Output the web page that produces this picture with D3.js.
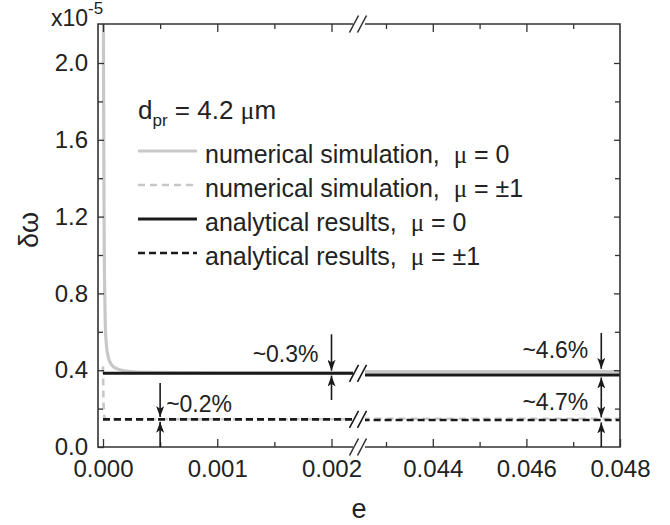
<!DOCTYPE html>
<html>
<head>
<meta charset="utf-8">
<script src="https://cdn.jsdelivr.net/npm/d3@7"></script>
<style>
  html, body { margin: 0; padding: 0; background: #fff; }
  svg { display: block; }
  text { font-family: "Liberation Sans", Arial, sans-serif; fill: #222; }
</style>
</head>
<body>
<svg id="chart" width="670" height="525"></svg>
<script>
// ---------------- data ----------------
const breakE = 0.01; // e values below belong to the left panel, above to the right panel
const xLeftDomain = [0, 0.002];
const xRightDomain = [0.043, 0.048];
const xLeftMajor = [0, 0.001, 0.002];
const xLeftMinor = [0.0005, 0.0015];
const xRightMajor = [0.044, 0.046, 0.048];
const xRightMinor = [0.043, 0.045, 0.047];
const xLeftLabels = ["0.000", "0.001", "0.002"];
const xRightLabels = ["0.044", "0.046", "0.048"];
const yDomain = [0, 2.2];
const yMajor = [0, 0.4, 0.8, 1.2, 1.6, 2.0];
const yMinor = [0.2, 0.6, 1.0, 1.4, 1.8, 2.2];
const yLabels = ["0.0", "0.4", "0.8", "1.2", "1.6", "2.0"];

// numerical simulation, mu = 0  (e, delta omega x1e5)
const numMu0 = [
  [0, 2.6], [0.000003, 2.3], [0.000006, 1.7], [0.00001, 1.1], [0.000015, 0.8],
  [0.00002, 0.64], [0.00003, 0.53], [0.00005, 0.46], [0.00008, 0.425],
  [0.00012, 0.408], [0.0002, 0.396], [0.0004, 0.389], [0.001, 0.386], [0.0022, 0.385],
  [0.0425, 0.393], [0.048, 0.393]
];
// numerical simulation, mu = +-1
const numMu1 = [
  [0, 0.42], [0.000004, 0.25], [0.000008, 0.175], [0.000015, 0.152], [0.00003, 0.146],
  [0.0002, 0.1445], [0.0022, 0.1443],
  [0.0425, 0.147], [0.048, 0.147]
];
// analytical results, mu = 0
const anaMu0 = [[0, 0.384], [0.0022, 0.384], [0.0425, 0.375], [0.048, 0.375]];
// analytical results, mu = +-1
const anaMu1 = [[0, 0.144], [0.0022, 0.144], [0.0425, 0.1406], [0.048, 0.1406]];

const legendNames = [
  "numerical simulation,  μ = 0",
  "numerical simulation,  μ = ±1",
  "analytical results,  μ = 0",
  "analytical results,  μ = ±1"
];

// annotation arrows: e position, arrow-from value, arrow-to value
const arrowE = [0.002, 0.002, 0.0005, 0.0005, 0.0476, 0.0476, 0.0476, 0.0476];
const arrowFrom = [0.587, 0.245, 0.333, 0.0, 0.594, 0.26, 0.26, 0.0];
const arrowTo   = [0.397, 0.372, 0.156, 0.131, 0.407, 0.362, 0.154, 0.128];
const annoLabels = ["~0.3%", "~0.2%", "~4.6%", "~4.7%"];
const annoE = [0.002, 0.0005, 0.0476, 0.0476];
const annoV = [0.445, 0.182, 0.465, 0.192];

// ---------------- layout ----------------
const L = 98, R = 620, T = 24, B = 447;
const gapL = 353, gapR = 365;
const svg = d3.select("#chart");

const xL = d3.scaleLinear().domain(xLeftDomain).range([103, 331.5]);
const xR = d3.scaleLinear().domain(xRightDomain).range([386, 620]);
const y = d3.scaleLinear().domain(yDomain).range([B, T + 0.6]);
const xAt = e => (e < breakE ? xL(e) : xR(e));

const defs = svg.append("defs");
defs.append("clipPath").attr("id", "clipL").append("rect")
  .attr("x", L).attr("y", T).attr("width", gapL - L).attr("height", B - T);
defs.append("clipPath").attr("id", "clipR").append("rect")
  .attr("x", gapR).attr("y", T).attr("width", R - gapR).attr("height", B - T);
defs.append("marker").attr("id", "ah").attr("viewBox", "0 0 10 14")
  .attr("refX", 10).attr("refY", 7).attr("markerWidth", 11).attr("markerHeight", 8)
  .attr("markerUnits", "userSpaceOnUse").attr("orient", "auto").attr("preserveAspectRatio", "none")
  .append("path").attr("d", "M0,0 L10,7 L0,14 L2.5,7 Z").attr("fill", "#1a1a1a");

// ---------------- series ----------------
const series = [
  { data: numMu0, color: "#c8c8c8", width: 3.2, dash: null },
  { data: numMu1, color: "#c8c8c8", width: 2.6, dash: "7,5" },
  { data: anaMu0, color: "#1a1a1a", width: 3, dash: null },
  { data: anaMu1, color: "#1a1a1a", width: 2.6, dash: "7,4" }
];
const line = d3.line().x(d => xAt(d[0])).y(d => y(d[1])).curve(d3.curveMonotoneX);

series.forEach(s => {
  const left = s.data.filter(d => d[0] < breakE);
  const right = s.data.filter(d => d[0] >= breakE);
  [[left, "clipL"], [right, "clipR"]].forEach(([pts, clip]) => {
    svg.append("path").datum(pts)
      .attr("clip-path", `url(#${clip})`)
      .attr("d", line)
      .attr("fill", "none")
      .attr("stroke", s.color)
      .attr("stroke-width", s.width)
      .attr("stroke-dasharray", s.dash);
  });
});

// break marks on the analytical lines
function slashes(cy, color) {
  [354, 362].forEach(cx => {
    svg.append("line").attr("x1", cx - 4.5).attr("y1", cy + 8.5).attr("x2", cx + 4.5).attr("y2", cy - 8.5)
      .attr("stroke", color).attr("stroke-width", 1.6);
  });
}
slashes(y(anaMu0[1][1]), "#1a1a1a");
slashes(y(anaMu1[1][1]), "#1a1a1a");

// ---------------- axes ----------------
const axisColor = "#333";
function styleAxis(g) {
  g.select(".domain").remove();
  g.selectAll(".tick line").attr("stroke", axisColor).attr("stroke-width", 1.3);
  g.selectAll(".tick text").attr("font-size", 24).attr("font-family", "Liberation Sans, Arial, sans-serif").attr("fill", "#222");
}
// bottom
svg.append("g").attr("transform", `translate(0,${B})`)
  .call(d3.axisBottom(xL).tickValues(xLeftMajor).tickFormat((d, i) => xLeftLabels[i]).tickSize(-8).tickSizeOuter(0).tickPadding(13)).call(styleAxis);
svg.append("g").attr("transform", `translate(0,${B})`)
  .call(d3.axisBottom(xL).tickValues(xLeftMinor).tickFormat("").tickSize(-5).tickSizeOuter(0)).call(styleAxis);
svg.append("g").attr("transform", `translate(0,${B})`)
  .call(d3.axisBottom(xR).tickValues(xRightMajor).tickFormat((d, i) => xRightLabels[i]).tickSize(-8).tickSizeOuter(0).tickPadding(13)).call(styleAxis);
svg.append("g").attr("transform", `translate(0,${B})`)
  .call(d3.axisBottom(xR).tickValues(xRightMinor).tickFormat("").tickSize(-5).tickSizeOuter(0)).call(styleAxis);
// top
svg.append("g").attr("transform", `translate(0,${T})`)
  .call(d3.axisTop(xL).tickValues(xLeftMajor).tickFormat("").tickSize(-8).tickSizeOuter(0)).call(styleAxis);
svg.append("g").attr("transform", `translate(0,${T})`)
  .call(d3.axisTop(xL).tickValues(xLeftMinor).tickFormat("").tickSize(-5).tickSizeOuter(0)).call(styleAxis);
svg.append("g").attr("transform", `translate(0,${T})`)
  .call(d3.axisTop(xR).tickValues(xRightMajor.filter(v => v < 0.048)).tickFormat("").tickSize(-8).tickSizeOuter(0)).call(styleAxis);
svg.append("g").attr("transform", `translate(0,${T})`)
  .call(d3.axisTop(xR).tickValues(xRightMinor).tickFormat("").tickSize(-5).tickSizeOuter(0)).call(styleAxis);
// left
svg.append("g").attr("transform", `translate(${L},0)`)
  .call(d3.axisLeft(y).tickValues(yMajor).tickFormat((d, i) => yLabels[i]).tickSize(-6).tickSizeOuter(0).tickPadding(10)).call(styleAxis);
svg.append("g").attr("transform", `translate(${L},0)`)
  .call(d3.axisLeft(y).tickValues(yMinor.filter(v => v < 2.2)).tickFormat("").tickSize(-5).tickSizeOuter(0)).call(styleAxis);
// right
svg.append("g").attr("transform", `translate(${R},0)`)
  .call(d3.axisRight(y).tickValues(yMajor.filter(v => v > 0)).tickFormat("").tickSize(-6).tickSizeOuter(0)).call(styleAxis);
svg.append("g").attr("transform", `translate(${R},0)`)
  .call(d3.axisRight(y).tickValues(yMinor.filter(v => v < 2.2)).tickFormat("").tickSize(-5).tickSizeOuter(0)).call(styleAxis);

// frame with broken horizontal axes
const frame = svg.append("g").attr("stroke", axisColor).attr("stroke-width", 1.6).attr("fill", "none");
frame.append("path").attr("d", `M${gapL},${T} H${L} V${B} H${gapL}`);
frame.append("path").attr("d", `M${gapR},${T} H${R} V${B} H${gapR}`);
[T, B].forEach(yy => {
  [354, 362].forEach(cx => {
    svg.append("line").attr("x1", cx - 4.5).attr("y1", yy + 8.5).attr("x2", cx + 4.5).attr("y2", yy - 8.5)
      .attr("stroke", axisColor).attr("stroke-width", 1.6);
  });
});

// axis titles
svg.append("text").attr("x", 359).attr("y", 518).attr("text-anchor", "middle").attr("font-size", 27).text("e");
svg.append("text").attr("transform", "translate(38,230) rotate(-90)").attr("text-anchor", "middle")
  .attr("font-size", 27).text("δω");
const mult = svg.append("text").attr("x", 51).attr("y", 26).attr("font-size", 23);
mult.append("tspan").text("x10");
mult.append("tspan").attr("dy", -12).attr("font-size", 17).text("-5");

// ---------------- legend ----------------
const dpr = svg.append("text").attr("x", 138).attr("y", 119).attr("font-size", 26);
dpr.append("tspan").text("d");
dpr.append("tspan").attr("dy", 7).attr("font-size", 17).text("pr");
dpr.append("tspan").attr("dy", -7).text(" = 4.2 ");
dpr.append("tspan").attr("font-family", "Liberation Serif, serif").text("μ");
dpr.append("tspan").text("m");

legendNames.forEach((name, i) => {
  const ly = 151 + i * 34;
  const s = series[i];
  svg.append("line").attr("x1", 138).attr("x2", 197).attr("y1", ly).attr("y2", ly)
    .attr("stroke", s.color).attr("stroke-width", s.width).attr("stroke-dasharray", s.dash);
  const t = svg.append("text").attr("x", 205).attr("y", ly + 12).attr("font-size", 25);
  const parts = name.split("μ");
  t.append("tspan").text(parts[0].replace(/\s+$/, "") + "\u00a0\u00a0");
  t.append("tspan").attr("font-family", "Liberation Serif, serif").text("μ");
  t.append("tspan").text(parts[1]);
});

// ---------------- annotations ----------------
arrowE.forEach((e, i) => {
  svg.append("line")
    .attr("x1", xAt(e)).attr("x2", xAt(e))
    .attr("y1", y(arrowFrom[i])).attr("y2", y(arrowTo[i]))
    .attr("stroke", "#1a1a1a").attr("stroke-width", 1.6)
    .attr("marker-end", "url(#ah)");
});
annoLabels.forEach((lab, i) => {
  const isLeftText = i !== 1;
  svg.append("text")
    .attr("x", xAt(annoE[i]) + (isLeftText ? -13 : 6))
    .attr("y", y(annoV[i]))
    .attr("text-anchor", isLeftText ? "end" : "start")
    .attr("font-size", 23)
    .text(lab);
});
</script>
</body>
</html>
